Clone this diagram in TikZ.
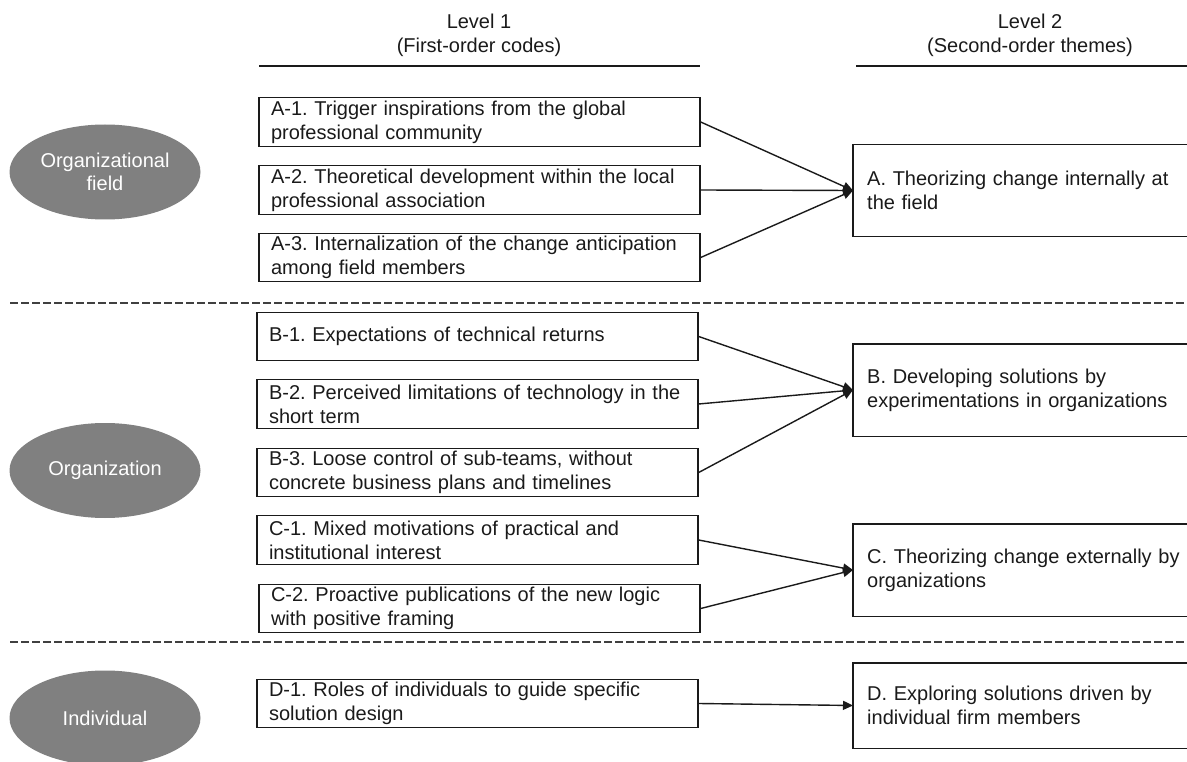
\documentclass[tikz,border=0pt]{standalone}
\usepackage{fontspec}
\setmainfont{Liberation Sans}
\usetikzlibrary{arrows.meta,shapes.geometric}
\definecolor{ovalgray}{HTML}{808080}
\definecolor{ink}{HTML}{1A1A1A}
\frenchspacing
\begin{document}
\begin{tikzpicture}[x=1pt,y=-1pt,
  every node/.style={font=\fontsize{20}{24}\selectfont, text=ink},
  lone/.style={draw=ink, line width=1.4pt, text width=417pt, inner xsep=12pt, inner ysep=0pt, minimum height=48.5pt, align=left},
  ltwo/.style={text width=340pt, inner xsep=14pt, inner ysep=0pt, minimum height=92pt, align=left, anchor=west},
  boxline/.style={draw=ink, line width=1.4pt},
  levelell/.style={ellipse, fill=ovalgray, text=white, minimum width=191pt, minimum height=95pt, align=center, inner sep=0pt, font=\fontsize{20}{23}\selectfont},
  conn/.style={draw=ink, line width=1.4pt, -{Triangle[length=10pt,width=9pt]}},
  divider/.style={draw=black!75, line width=1.5pt, dash pattern=on 7.5pt off 3.5pt},
  hline/.style={draw=ink, line width=1.4pt},
  head/.style={align=center, font=\fontsize{20}{24}\selectfont}
]
\path[use as bounding box] (0,0) rectangle (1187,762);
\clip (0,0) rectangle (1187,762);
\coordinate (edge) at (1190,0);

% headers
\node[head] (h1) at (479,35) {Level 1\\(First-order codes)};
\node[head] (h2) at (1030,35) {Level 2\\(Second-order themes)};
\coordinate (u1a) at (259,66);
\coordinate (u1b) at (700,66);
\coordinate (u2a) at (856,66);
\coordinate (u2b) at (1187,66);
\draw[hline] (u1a) -- (u1b);
\draw[hline] (u2a) -- (u2b);

% dividers
\coordinate (d1a) at (10,303);
\coordinate (d1b) at (1187,303);
\coordinate (d2a) at (10,642);
\coordinate (d2b) at (1187,642);
\draw[divider] (d1a) -- (d1b);
\draw[divider] (d2a) -- (d2b);

% level ellipses
\node[levelell] (e1) at (105,172) {Organizational\\field};
\node[levelell] (e2) at (105,470.5) {Organization};
\node[levelell] (e3) at (105,718) {Individual};

% level 1 boxes
\node[lone] (a1) at (479.5,122) {A-1. Trigger inspirations from the global\\professional community};
\node[lone] (a2) at (479.5,190) {A-2. Theoretical development within the local\\professional association};
\node[lone] (a3) at (479.5,257.5) {A-3. Internalization of the change anticipation\\among field members};
\node[lone] (b1) at (477.5,336.5) {B-1. Expectations of technical returns};
\node[lone] (b2) at (477.5,404) {B-2. Perceived limitations of technology in the\\short term};
\node[lone] (b3) at (477.5,472.5) {B-3. Loose control of sub-teams, without\\concrete business plans and timelines};
\node[lone] (c1) at (477.5,540) {C-1. Mixed motivations of practical and\\institutional interest};
\node[lone] (c2) at (479.5,608.5) {C-2. Proactive publications of the new logic\\with positive framing};
\node[lone] (d1) at (477.5,703.5) {D-1. Roles of individuals to guide specific\\solution design};

% level 2 boxes (cut off at the right edge)
\node[ltwo] (A) at (853,190.5) {A. Theorizing change internally at\\the field};
\node[ltwo] (B) at (853,390) {B. Developing solutions by\\experimentations in organizations};
\node[ltwo] (C) at (853,570) {C. Theorizing change externally by\\organizations};
\node[ltwo, minimum height=85pt] (D) at (853,705.5) {D. Exploring solutions driven by\\individual firm members};
\foreach \b in {A,B,C,D}{
  \draw[boxline] (\b.north west -| edge) -- (\b.north west) -- (\b.south west) -- (\b.south west -| edge);
}

% connectors
\draw[conn] (a1.east) -- (A.west);
\draw[conn] (a2.east) -- (A.west);
\draw[conn] (a3.east) -- (A.west);
\draw[conn] (b1.east) -- (B.west);
\draw[conn] (b2.east) -- (B.west);
\draw[conn] (b3.east) -- (B.west);
\draw[conn] (c1.east) -- (C.west);
\draw[conn] (c2.east) -- (C.west);
\draw[conn] (d1.east) -- (D.west);
\end{tikzpicture}
\end{document}
